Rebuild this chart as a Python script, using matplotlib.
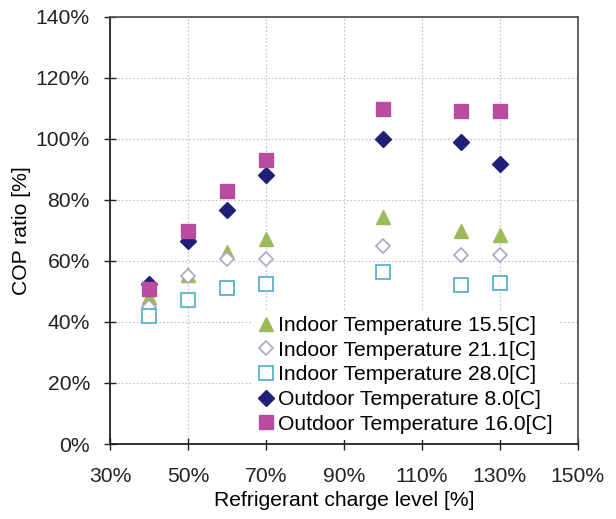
#!/usr/bin/env python3
"""COP ratio vs refrigerant charge level scatter."""

import matplotlib
matplotlib.use('Agg')
import matplotlib.pyplot as plt
from matplotlib.ticker import FuncFormatter

plt.rcParams.update({
    'font.family': ['Liberation Sans', 'DejaVu Sans'],
    'font.size': 15,
})

# Data (percent)
charge = [40, 50, 60, 70, 100, 120, 130]
indoor_155 = [48, 55.5, 63, 67, 74.5, 69.8, 68.5]
indoor_211 = [45, 55, 60.5, 60.5, 64.7, 61.9, 61.9]
indoor_280 = [42, 47.2, 51, 52.4, 56.2, 52, 52.6]
outdoor_80 = [52.5, 66.5, 76.6, 88.2, 99.8, 98.8, 91.8]
outdoor_160 = [50.7, 69.8, 83, 93.1, 109.7, 109.2, 109.2]

labels = ['Indoor Temperature 15.5[C]', 'Indoor Temperature 21.1[C]',
          'Indoor Temperature 28.0[C]', 'Outdoor Temperature 8.0[C]',
          'Outdoor Temperature 16.0[C]']

fig = plt.figure(figsize=(6.16, 5.19), dpi=100)
ax = fig.add_axes([0.1786, 0.1445, 0.7592, 0.8235])

ax.plot(charge, indoor_155, '^', ms=10, color='#9BBB59', mec='#9BBB59', label=labels[0])
ax.plot(charge, indoor_211, 'D', ms=7.5, mfc='white', mec='#B3A2C7', mew=1.2, label=labels[1])
ax.plot(charge, indoor_280, 's', ms=9.5, mfc='white', mec='#4BACC6', mew=1.2, label=labels[2])
ax.plot(charge, outdoor_80, 'D', ms=8, color='#1F1F78', label=labels[3])
ax.plot(charge, outdoor_160, 's', ms=10.5, color='#B84DA0', label=labels[4])

ax.set_xlim(30, 150)
ax.set_ylim(0, 140)
ax.set_xticks(range(30, 151, 20))
ax.set_yticks(range(0, 141, 20))
pct = FuncFormatter(lambda v, p: f'{v:.0f}%')
ax.xaxis.set_major_formatter(pct)
ax.yaxis.set_major_formatter(pct)
ax.tick_params(direction='inout', length=9, width=1, pad=10, labelsize=15.2,
               colors='#222222')
ax.tick_params(axis='x', pad=12)

ax.grid(True, linestyle=(0, (1.5, 1.5)), color='#C8C8C8', linewidth=0.9)
ax.set_axisbelow(True)
for side in ['left', 'bottom']:
    ax.spines[side].set_linewidth(1.3)
    ax.spines[side].set_color('#222222')
for side in ['right', 'top']:
    ax.spines[side].set_linewidth(1.3)
    ax.spines[side].set_color('#555555')

ax.set_xlabel('Refrigerant charge level [%]', fontsize=15.2, labelpad=4)
ax.set_ylabel('COP ratio [%]', fontsize=15.2, labelpad=3)

leg = ax.legend(loc='lower right', bbox_to_anchor=(0.965, 0.004), frameon=True,
                fancybox=False, edgecolor='none', facecolor='white', framealpha=1,
                handlelength=0.6, handletextpad=0.3, labelspacing=0.27,
                borderpad=0.3, borderaxespad=0.1, fontsize=15.2)

fig.savefig('out.png', dpi=100)
plt.close(fig)
